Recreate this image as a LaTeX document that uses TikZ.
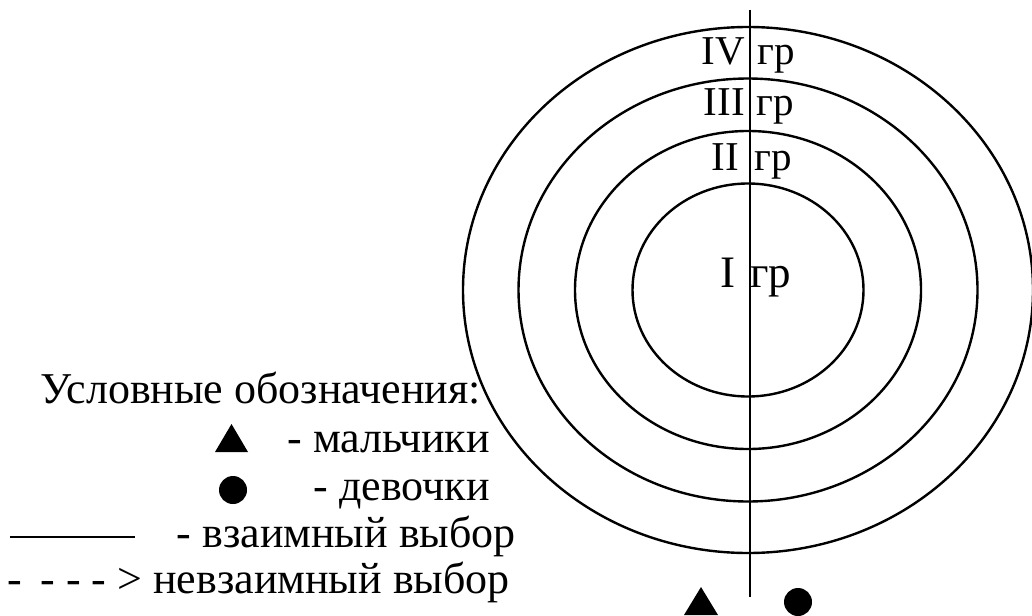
\documentclass[tikz,border=0pt]{standalone}
\usepackage{fontspec}
\setmainfont{Liberation Serif}
\begin{document}
\begin{tikzpicture}[x=1pt,y=-1pt,
  ring/.style={draw=black, line width=2.4pt},
  axisline/.style={draw=black, line width=2.6pt},
  lbl/.style={inner sep=0pt, font=\fontsize{41}{46}\selectfont},
  lblbig/.style={inner sep=0pt, font=\fontsize{45}{50}\selectfont},
  leg/.style={inner sep=0pt, font=\fontsize{44}{47}\selectfont},
  symb/.style={fill=black}]
\useasboundingbox (0,0) rectangle (1032,615);
% concentric ellipses
\draw[ring] (748,290) ellipse [x radius=115.5pt, y radius=106.5pt];
\draw[ring] (748,290) ellipse [x radius=173pt, y radius=159pt];
\draw[ring] (748,290) ellipse [x radius=229.5pt, y radius=211.5pt];
\draw[ring] (748,290) ellipse [x radius=285pt, y radius=263pt];
% vertical axis
\coordinate (axtop) at (750,10);
\coordinate (axbot) at (750,597);
\draw[axisline] (axtop) -- (axbot);
% group labels
\node[lbl, anchor=base east] (g4a) at (745,65) {IV};
\node[lbl, anchor=base west] (g4b) at (757,65) {гр};
\node[lbl, anchor=base east] (g3a) at (745,115) {III};
\node[lbl, anchor=base west] (g3b) at (756,115) {гр};
\node[lbl, anchor=base east] (g2a) at (739,170) {II};
\node[lbl, anchor=base west] (g2b) at (754,170) {гр};
\node[lblbig, anchor=base east] (g1a) at (736,287) {I};
\node[lblbig, anchor=base west] (g1b) at (750,287) {гр};
% bottom markers
\fill[symb] (684,615) -- (718,615) -- (701,587) -- cycle;
\fill[symb] (798,602) circle [radius=14pt];
% legend
\node[leg, anchor=base east] (title) at (481,403) {Условные обозначения:};
\fill[symb] (215,452) -- (248,452) -- (231.5,424) -- cycle;
\node[leg, anchor=base east] (boys) at (490,452) {- мальчики};
\fill[symb] (233,490) circle [radius=14pt];
\node[leg, anchor=base east] (girls) at (490,500) {- девочки};
\coordinate (sl1) at (10,537);
\coordinate (sl2) at (135,537);
\draw[line width=2pt] (sl1) -- (sl2);
\node[leg, anchor=base east] (mutual) at (516,547) {- взаимный выбор};
\node[leg, anchor=base east] (nonmutual) at (510,593) {-\hspace{18pt}- - - > невзаимный выбор};
\end{tikzpicture}
\end{document}
